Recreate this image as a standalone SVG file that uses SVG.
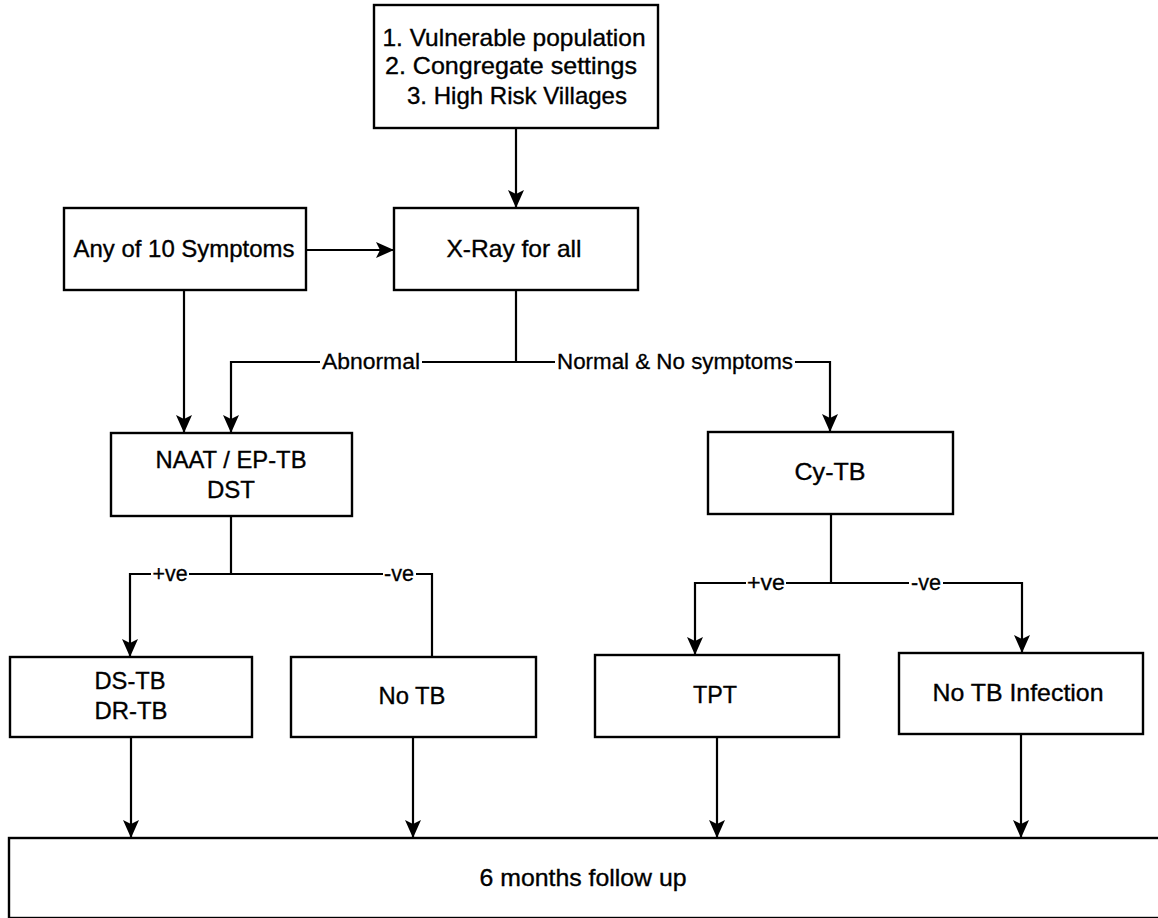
<svg xmlns="http://www.w3.org/2000/svg" width="1158" height="918" viewBox="0 0 1158 918">
<defs>
<marker id="arr" markerUnits="userSpaceOnUse" viewBox="0 0 18 16" refX="17" refY="8" markerWidth="18" markerHeight="16" orient="auto">
<path d="M0,0 L18,8 L0,16 L4,8 Z" fill="#000"/>
</marker>
<style>
.box{fill:#fff;stroke:#000;stroke-width:2.4}
.t{font-family:"Liberation Sans",Arial,sans-serif;font-size:24px;fill:#000;stroke:#000;stroke-width:0.35;text-anchor:middle}
.l{font-family:"Liberation Sans",Arial,sans-serif;font-size:22px;fill:#000;stroke:#000;stroke-width:0.3;text-anchor:middle}
.e{fill:none;stroke:#000;stroke-width:2.2}
.a{marker-end:url(#arr)}
.bg{fill:#fff}
</style>
</defs>
<rect width="1158" height="918" fill="#fff"/>
<g id="connectors">
<path class="e a" d="M516,128 V207"/>
<path class="e a" d="M306,250 H393"/>
<path class="e a" d="M184,290 V432"/>
<path class="e a" d="M516,290 V362 H231 V432"/>
<path class="e a" d="M516,362 H830 V431"/>
<path class="e a" d="M231,516 V574 H130 V656"/>
<path class="e" d="M231,574 H432 V657"/>
<path class="e a" d="M831,514 V583 H695 V654"/>
<path class="e a" d="M831,583 H1022 V652"/>
<path class="e a" d="M131,737 V837"/>
<path class="e a" d="M413,737 V837"/>
<path class="e a" d="M717,737 V837"/>
<path class="e a" d="M1021,734 V837"/>
<rect class="bg" x="320" y="350" width="102" height="24"/>
<text class="l" x="371" y="369" textLength="98" lengthAdjust="spacingAndGlyphs">Abnormal</text>
<rect class="bg" x="555" y="350" width="240" height="24"/>
<text class="l" x="675" y="369" textLength="236" lengthAdjust="spacingAndGlyphs">Normal &amp; No symptoms</text>
<rect class="bg" x="151" y="562" width="38" height="24"/>
<text class="l" x="170" y="581" textLength="35" lengthAdjust="spacingAndGlyphs">+ve</text>
<rect class="bg" x="383" y="562" width="33" height="24"/>
<text class="l" x="399" y="581" textLength="30" lengthAdjust="spacingAndGlyphs">-ve</text>
<rect class="bg" x="746" y="571" width="40" height="24"/>
<text class="l" x="766" y="590" textLength="38" lengthAdjust="spacingAndGlyphs">+ve</text>
<rect class="bg" x="909" y="571" width="34" height="24"/>
<text class="l" x="926" y="590" textLength="30" lengthAdjust="spacingAndGlyphs">-ve</text>
</g>
<g id="n-top">
<rect class="box" x="374" y="5" width="284" height="123"/>
<text class="t" x="514" y="46" textLength="263" lengthAdjust="spacingAndGlyphs">1. Vulnerable population</text>
<text class="t" x="511" y="74" textLength="252" lengthAdjust="spacingAndGlyphs">2. Congregate settings</text>
<text class="t" x="517" y="104" textLength="220" lengthAdjust="spacingAndGlyphs">3. High Risk Villages</text>
</g>
<g id="n-any">
<rect class="box" x="64" y="208" width="242" height="82"/>
<text class="t" x="184" y="257" textLength="221" lengthAdjust="spacingAndGlyphs">Any of 10 Symptoms</text>
</g>
<g id="n-xray">
<rect class="box" x="394" y="208" width="244" height="82"/>
<text class="t" x="514" y="257" textLength="135" lengthAdjust="spacingAndGlyphs">X-Ray for all</text>
</g>
<g id="n-naat">
<rect class="box" x="111" y="433" width="241" height="83"/>
<text class="t" x="231" y="468" textLength="151" lengthAdjust="spacingAndGlyphs">NAAT / EP-TB</text>
<text class="t" x="231" y="498" textLength="48" lengthAdjust="spacingAndGlyphs">DST</text>
</g>
<g id="n-cytb">
<rect class="box" x="708" y="432" width="245" height="82"/>
<text class="t" x="830" y="480" textLength="71" lengthAdjust="spacingAndGlyphs">Cy-TB</text>
</g>
<g id="n-dstb">
<rect class="box" x="10" y="657" width="242" height="80"/>
<text class="t" x="130" y="689" textLength="71" lengthAdjust="spacingAndGlyphs">DS-TB</text>
<text class="t" x="131" y="719" textLength="73" lengthAdjust="spacingAndGlyphs">DR-TB</text>
</g>
<g id="n-notb">
<rect class="box" x="291" y="657" width="245" height="80"/>
<text class="t" x="412" y="704" textLength="67" lengthAdjust="spacingAndGlyphs">No TB</text>
</g>
<g id="n-tpt">
<rect class="box" x="595" y="655" width="244" height="82"/>
<text class="t" x="715" y="703" textLength="44" lengthAdjust="spacingAndGlyphs">TPT</text>
</g>
<g id="n-notbinf">
<rect class="box" x="899" y="653" width="244" height="81"/>
<text class="t" x="1018" y="701" textLength="171" lengthAdjust="spacingAndGlyphs">No TB Infection</text>
</g>
<g id="n-follow">
<rect class="box" x="9" y="838" width="1160" height="80"/>
<text class="t" x="583" y="886" textLength="207" lengthAdjust="spacingAndGlyphs">6 months follow up</text>
</g>
</svg>
